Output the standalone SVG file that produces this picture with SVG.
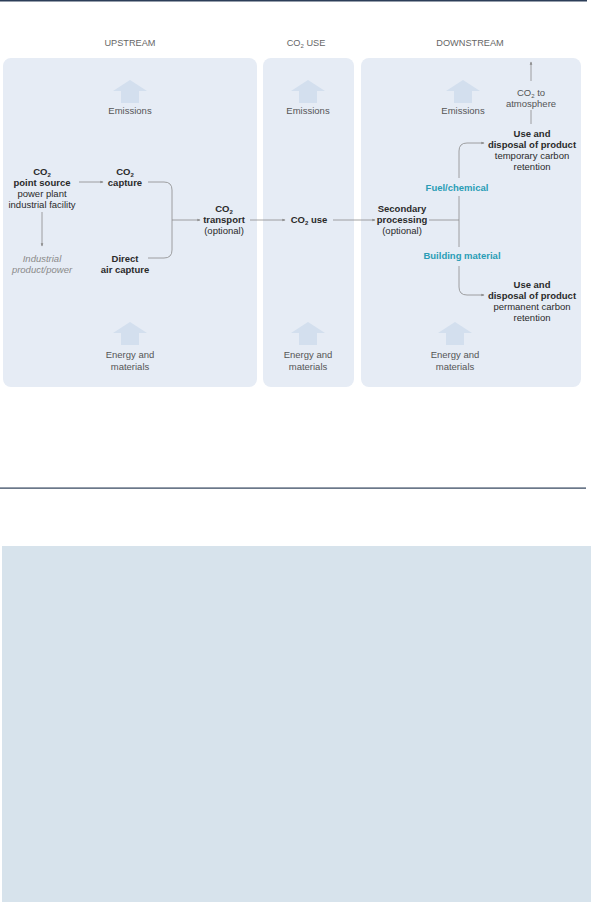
<svg xmlns="http://www.w3.org/2000/svg" width="591" height="902" viewBox="0 0 591 902">
<style>
text{font-family:"Liberation Sans",Arial,sans-serif;font-size:9.5px;fill:#2a2a2a;text-anchor:middle}
.h{fill:#666;font-size:9.2px}
.b{font-weight:bold}
.g{fill:#555}
.i{font-style:italic;fill:#8a8a8a}
.t{fill:#2a9db5;font-weight:bold}
.panel{fill:#e6ecf5}
.arr{fill:#d3dfee}
.c{fill:none;stroke:#8a8a8a;stroke-width:0.8}
.sub{font-size:6px}
</style>
<defs>
<marker id="ah" viewBox="0 0 6 6" refX="5" refY="3" markerWidth="4" markerHeight="4" orient="auto">
<path d="M0,0.5 L6,3 L0,5.5 z" fill="#8a8a8a"/>
</marker>
<path id="up" d="M-17,11 L0,0 L17,11 L9,11 L9,23 L-9,23 L-9,11 z"/>
</defs>
<rect x="0" y="0" width="587" height="1.5" fill="#2c3e58"/>
<rect x="0" y="487.5" width="586" height="1.2" fill="#2c3e58"/>
<rect x="2" y="546" width="589" height="356" fill="#d7e3ec"/>

<g id="headers">
<text class="h" x="130" y="46">UPSTREAM</text>
<text class="h" x="306" y="46">CO<tspan class="sub" dy="2">2</tspan><tspan dy="-2"> USE</tspan></text>
<text class="h" x="470" y="46">DOWNSTREAM</text>
</g>

<g id="panel-upstream"><rect class="panel" x="3" y="58" width="254" height="329" rx="8"/></g>
<g id="panel-use"><rect class="panel" x="263" y="58" width="91" height="329" rx="8"/></g>
<g id="panel-downstream"><rect class="panel" x="361" y="58" width="220" height="329" rx="8"/></g>

<g id="emissions-up"><use href="#up" class="arr" x="130" y="80"/><text class="g" x="130" y="114">Emissions</text></g>
<g id="emissions-use"><use href="#up" class="arr" x="308" y="80"/><text class="g" x="308" y="114">Emissions</text></g>
<g id="emissions-down"><use href="#up" class="arr" x="463" y="80"/><text class="g" x="463" y="114">Emissions</text></g>
<g id="energy-up"><use href="#up" class="arr" x="130" y="322"/><text class="g" x="130" y="358">Energy and</text><text class="g" x="130" y="370">materials</text></g>
<g id="energy-use"><use href="#up" class="arr" x="308" y="322"/><text class="g" x="308" y="358">Energy and</text><text class="g" x="308" y="370">materials</text></g>
<g id="energy-down"><use href="#up" class="arr" x="455" y="322"/><text class="g" x="455" y="358">Energy and</text><text class="g" x="455" y="370">materials</text></g>

<g id="connectors">
<line class="c" x1="79" y1="182" x2="103" y2="182" marker-end="url(#ah)"/>
<line class="c" x1="42" y1="212" x2="42" y2="246" marker-end="url(#ah)"/>
<path class="c" d="M148,182 H164 Q172,182 172,190 V250 Q172,258 164,258 H148"/>
<line class="c" x1="172" y1="220" x2="200" y2="220" marker-end="url(#ah)"/>
<line class="c" x1="250" y1="220" x2="285" y2="220" marker-end="url(#ah)"/>
<line class="c" x1="333" y1="220" x2="375" y2="220" marker-end="url(#ah)"/>
<line class="c" x1="429" y1="220" x2="459" y2="220"/>
<path class="c" d="M459,178 V151 Q459,143 467,143 H484" marker-end="url(#ah)"/>
<line class="c" x1="459" y1="196" x2="459" y2="247"/>
<path class="c" d="M459,266 V287 Q459,295 467,295 H484" marker-end="url(#ah)"/>
<line class="c" x1="531" y1="124" x2="531" y2="110"/>
<line class="c" x1="531" y1="81" x2="531" y2="62" marker-end="url(#ah)"/>
</g>

<g id="point-source">
<text class="b" x="42" y="175">CO<tspan class="sub" dy="2">2</tspan></text>
<text class="b" x="42" y="186">point source</text>
<text x="42" y="197">power plant</text>
<text x="42" y="208">industrial facility</text>
</g>
<g id="industrial-product">
<text class="i" x="42" y="262">Industrial</text>
<text class="i" x="42" y="273">product/power</text>
</g>
<g id="capture">
<text class="b" x="125" y="175">CO<tspan class="sub" dy="2">2</tspan></text>
<text class="b" x="125" y="186">capture</text>
</g>
<g id="direct-air-capture">
<text class="b" x="125" y="262">Direct</text>
<text class="b" x="125" y="273">air capture</text>
</g>
<g id="transport">
<text class="b" x="224" y="212">CO<tspan class="sub" dy="2">2</tspan></text>
<text class="b" x="224" y="223">transport</text>
<text x="224" y="234">(optional)</text>
</g>
<g id="co2-use">
<text class="b" x="309" y="223">CO<tspan class="sub" dy="2">2</tspan><tspan dy="-2"> use</tspan></text>
</g>
<g id="secondary">
<text class="b" x="402" y="212">Secondary</text>
<text class="b" x="402" y="223">processing</text>
<text x="402" y="234">(optional)</text>
</g>
<g id="fuel-label"><text class="t" x="457" y="191">Fuel/chemical</text></g>
<g id="building-label"><text class="t" x="462" y="259">Building material</text></g>
<g id="use-temporary">
<text class="b" x="532" y="137">Use and</text>
<text class="b" x="532" y="148">disposal of product</text>
<text x="532" y="159">temporary carbon</text>
<text x="532" y="170">retention</text>
</g>
<g id="atmosphere">
<text class="g" x="531" y="96">CO<tspan class="sub" dy="2">2</tspan><tspan dy="-2"> to</tspan></text>
<text class="g" x="531" y="107">atmosphere</text>
</g>
<g id="use-permanent">
<text class="b" x="532" y="288">Use and</text>
<text class="b" x="532" y="299">disposal of product</text>
<text x="532" y="310">permanent carbon</text>
<text x="532" y="321">retention</text>
</g>
</svg>
